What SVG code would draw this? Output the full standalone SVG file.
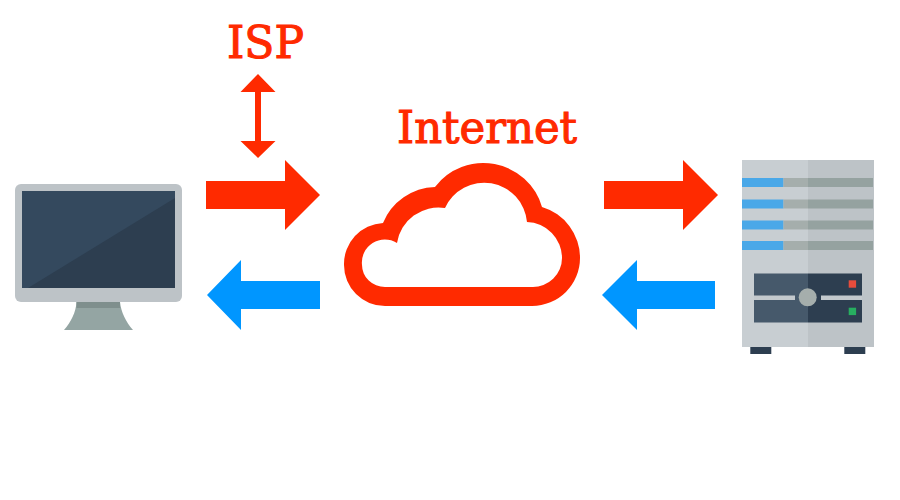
<svg xmlns="http://www.w3.org/2000/svg" width="900" height="500" viewBox="0 0 900 500">
<style>
.red{fill:#ff2a00}.blue{fill:#0096ff}
.lbl{font-family:"DejaVu Serif","Liberation Serif",serif;font-size:44px;fill:#ff2a00;stroke:#ff2a00;stroke-width:1.100px}
.stripe{fill:#a5aeac}.stripeD{fill:#95a2a0}.bl{fill:#4aa8e8}
.panel{fill:#46596b}.panelD{fill:#2d3e50}.slot{fill:#c3c9cd}
</style>
<rect width="900" height="500" fill="#fff"/>
<g id="connectors">
<path class="red" d="M206 181H285V160L320 195L285 230V209H206Z"/>
<path class="blue" d="M320 281H241V260L207 295L241 330V309H320Z"/>
<path class="red" d="M604 181H683V160L718 195L683 230V209H604Z"/>
<path class="blue" d="M715 281H637V260L602 295L637 330V309H715Z"/>
<path class="red" d="M258 74L275.500 92H261V141H275.500L258 158L240.500 141H255V92H240.500Z"/>
</g>
<g id="isp"><text class="lbl" x="227" y="58" textLength="77" lengthAdjust="spacingAndGlyphs">ISP</text></g>
<g id="internet">
<text class="lbl" x="397" y="143" textLength="180" lengthAdjust="spacingAndGlyphs">Internet</text>
<path class="red" fill-rule="evenodd" d="M383 223A58 58 0 0 1 435 187A61 61 0 0 1 542 207A53 53 0 0 1 580 258A48 48 0 0 1 532 306H385A41 41 0 0 1 344 265A41 41 0 0 1 383 223Z
M397 243A42 42 0 0 1 445 208A43 43 0 0 1 527 222A36 36 0 0 1 562 258A29 29 0 0 1 532 287H385A23 22 0 0 1 362 265A23 23 0 0 1 397 243Z"/>
</g>
<g id="monitor">
<path fill="#94a5a3" d="M76.500 302H120C121 312 126 322 133 330H64C71 322 76 312 76.500 302Z"/>
<rect x="76.500" y="302" width="43.500" height="6" fill="#7f8f8d"/>
<rect x="15" y="184" width="167" height="118" rx="6" fill="#bdc3c7"/>
<rect x="22" y="191" width="153" height="97" fill="#34495e"/>
<path fill="#2d3e50" d="M175 198V288H28Z"/>
</g>
<g id="server">
<rect x="742" y="160" width="66" height="187" fill="#c8ced2"/>
<rect x="808" y="160" width="66" height="187" fill="#bdc3c7"/>
<rect class="bl" x="742" y="178" width="41.500" height="9"/><rect class="stripe" x="783.500" y="178" width="24.500" height="9"/><rect class="stripeD" x="808" y="178" width="65" height="9"/>
<rect class="bl" x="742" y="199.500" width="41.500" height="9"/><rect class="stripe" x="783.500" y="199.500" width="24.500" height="9"/><rect class="stripeD" x="808" y="199.500" width="65" height="9"/>
<rect class="bl" x="742" y="220.500" width="41.500" height="9"/><rect class="stripe" x="783.500" y="220.500" width="24.500" height="9"/><rect class="stripeD" x="808" y="220.500" width="65" height="9"/>
<rect class="bl" x="742" y="241" width="41.500" height="9"/><rect class="stripe" x="783.500" y="241" width="24.500" height="9"/><rect class="stripeD" x="808" y="241" width="65" height="9"/>
<rect class="panel" x="754" y="273.500" width="54" height="49"/><rect class="panelD" x="808" y="273.500" width="54" height="49"/>
<rect class="slot" x="754" y="295.500" width="41" height="4.500"/><rect class="slot" x="821" y="295.500" width="41" height="4.500"/>
<circle cx="807.700" cy="297.300" r="9" fill="#a5aeac"/>
<rect x="848.700" y="280.300" width="7.400" height="7.400" fill="#e74c3c"/>
<rect x="848.700" y="307.700" width="7.400" height="7.400" fill="#27ae60"/>
<rect x="750.300" y="347" width="21" height="7" fill="#2d3e50"/>
<rect x="844.300" y="347" width="21" height="7" fill="#2d3e50"/>
</g>
</svg>
